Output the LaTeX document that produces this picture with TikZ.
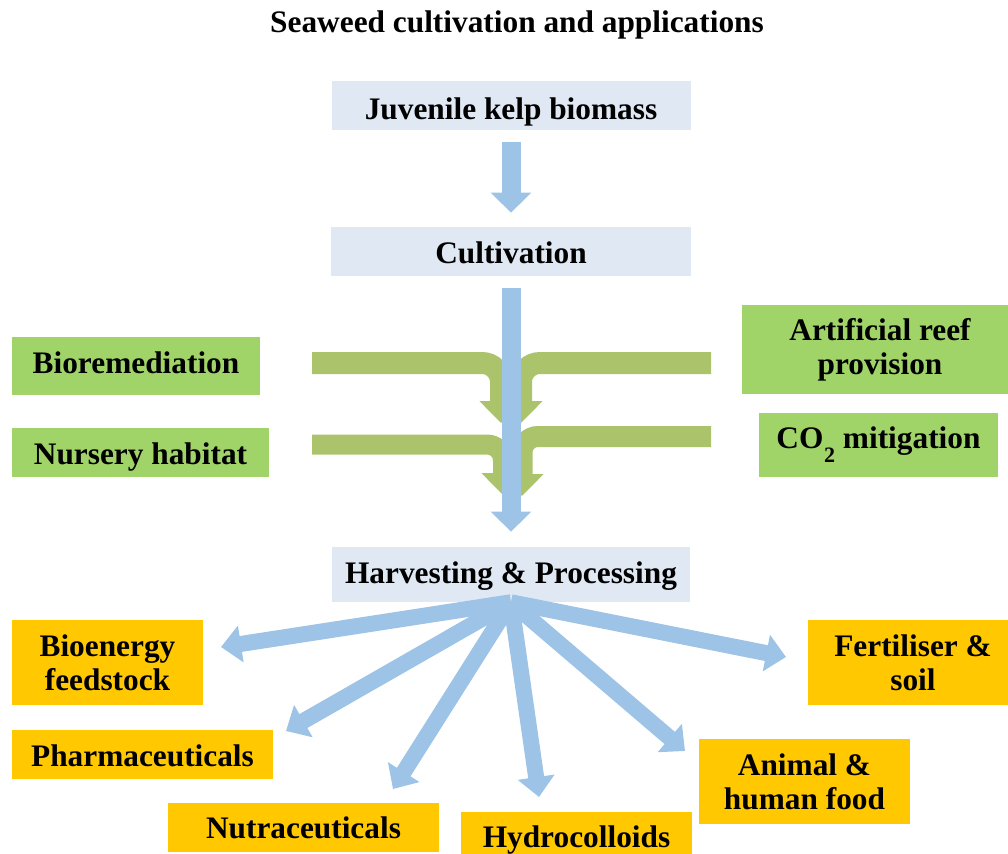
\documentclass[tikz,border=0pt]{standalone}
\usepackage{fontspec}
\setmainfont{Liberation Serif}
\usetikzlibrary{arrows.meta}
\newdimen\pxu \pxu=0.75pt
\definecolor{boxblue}{HTML}{DFE8F3}
\definecolor{arrblue}{HTML}{9DC3E6}
\definecolor{boxgreen}{HTML}{A0D468}
\definecolor{arrgreen}{HTML}{ABC46C}
\definecolor{boxyellow}{HTML}{FFC800}
\tikzset{
  txt/.style={inner sep=0pt, align=center, font=\bfseries\fontsize{23.5}{25.5}\selectfont},
  sz/.style 2 args={minimum width=#1\pxu, minimum height=#2\pxu},
  bl/.style 2 args={text height=#1, text depth=#2},
  stagebox/.style={txt, fill=boxblue},
  benefitbox/.style={txt, fill=boxgreen},
  usebox/.style={txt, fill=boxyellow},
  mainarrow/.style={draw=arrblue, line width=14.25pt, -{Triangle[length=15pt, width=29.25pt, fill=arrblue]}},
  fanarrow/.style={draw=arrblue, line width=12pt, -{Triangle[length=15pt, width=27pt, fill=arrblue]}},
  greenarrow/.style={draw=arrgreen, line width=#1, -{Triangle[length=16.5pt, width=31.5pt, fill=arrgreen]}},
}
\begin{document}
\begin{tikzpicture}[x=0.75pt, y=-0.75pt]
\useasboundingbox (0,0) rectangle (1008,854);
\fill[white] (0,0) rectangle (1008,854);

% title
\node[txt, anchor=base] (title) at (517,32) {Seaweed cultivation and applications};

% stage boxes
\node[stagebox, sz={359}{49}, bl={21.375pt}{1.125pt}] (juv) at (511,105.5) {Juvenile kelp biomass};
\node[stagebox, sz={360}{49}, bl={19.875pt}{2.625pt}] (cult) at (511,251.5) {Cultivation};
\node[stagebox, sz={358}{55}, bl={17.625pt}{4.875pt}] (harv) at (511,574.5) {Harvesting \& Processing};

% benefit boxes
\node[benefitbox, sz={248}{58}, bl={16.5pt}{6pt}] (bio) at (136,366) {Bioremediation};
\node[benefitbox, sz={257}{49}, bl={19.875pt}{2.625pt}] (nurs) at (140.5,452.5) {Nursery habitat};
\node[benefitbox, sz={276}{89}] (reef) at (880,349.5) {Artificial reef\\provision};
\node[benefitbox, sz={239}{64}, bl={13.5pt}{9pt}] (co2) at (878.5,445) {CO\kern0.5pt\raisebox{-10.5pt}{\fontsize{16.5}{16.5}\selectfont 2} mitigation};

% use boxes
\node[usebox, sz={191}{85}] (bioen) at (107.5,662.5) {Bioenergy\\feedstock};
\node[usebox, sz={261}{49}, bl={19.875pt}{2.625pt}] (pharm) at (142.5,754.5) {Pharmaceuticals};
\node[usebox, sz={271}{49}, bl={19.125pt}{3.375pt}] (nutra) at (303.5,827.5) {Nutraceuticals};
\node[usebox, sz={231}{60}, bl={15pt}{7.5pt}] (hydro) at (576.5,842) {Hydrocolloids};
\node[usebox, sz={210}{85}] (fert) at (913,662.5) {Fertiliser \&\\soil};
\node[usebox, sz={211}{85}] (anim) at (804.5,781.5) {Animal \&\\human food};

% green merging arrows
\coordinate (g1s) at (312,363);
\coordinate (g1c) at (501,363);
\coordinate (g1e) at (501,423);
\coordinate (g2s) at (711,363);
\coordinate (g2c) at (521,363);
\coordinate (g2e) at (521,423);
\coordinate (g3s) at (312,444.5);
\coordinate (g3c) at (503,444.5);
\coordinate (g3e) at (503,495);
\coordinate (g4s) at (711,436.5);
\coordinate (g4c) at (522,436.5);
\coordinate (g4e) at (522,496);
\draw[greenarrow=16.5pt, rounded corners=14.25pt] (g1s) -- (g1c) -- (g1e);
\draw[greenarrow=16.5pt, rounded corners=14.25pt] (g2s) -- (g2c) -- (g2e);
\draw[greenarrow=15pt, rounded corners=12pt] (g3s) -- (g3c) -- (g3e);
\draw[greenarrow=15.75pt, rounded corners=12pt] (g4s) -- (g4c) -- (g4e);

% main flow
\draw[mainarrow, shorten <=9pt, shorten >=10.5pt] (juv.south) -- (cult.north);
\draw[mainarrow, shorten <=9pt, shorten >=11.25pt] (cult.south) -- (harv.north);

% fan of uses
\coordinate (t1) at (221,647);
\coordinate (t2) at (286,731);
\coordinate (t3) at (393,789);
\coordinate (t4) at (539,797);
\coordinate (t5) at (685,751);
\coordinate (t6) at (786,657);
\foreach \t in {t1,t2,t3,t4,t5,t6}
  \draw[fanarrow] (harv.south) -- (\t);
\end{tikzpicture}
\end{document}
